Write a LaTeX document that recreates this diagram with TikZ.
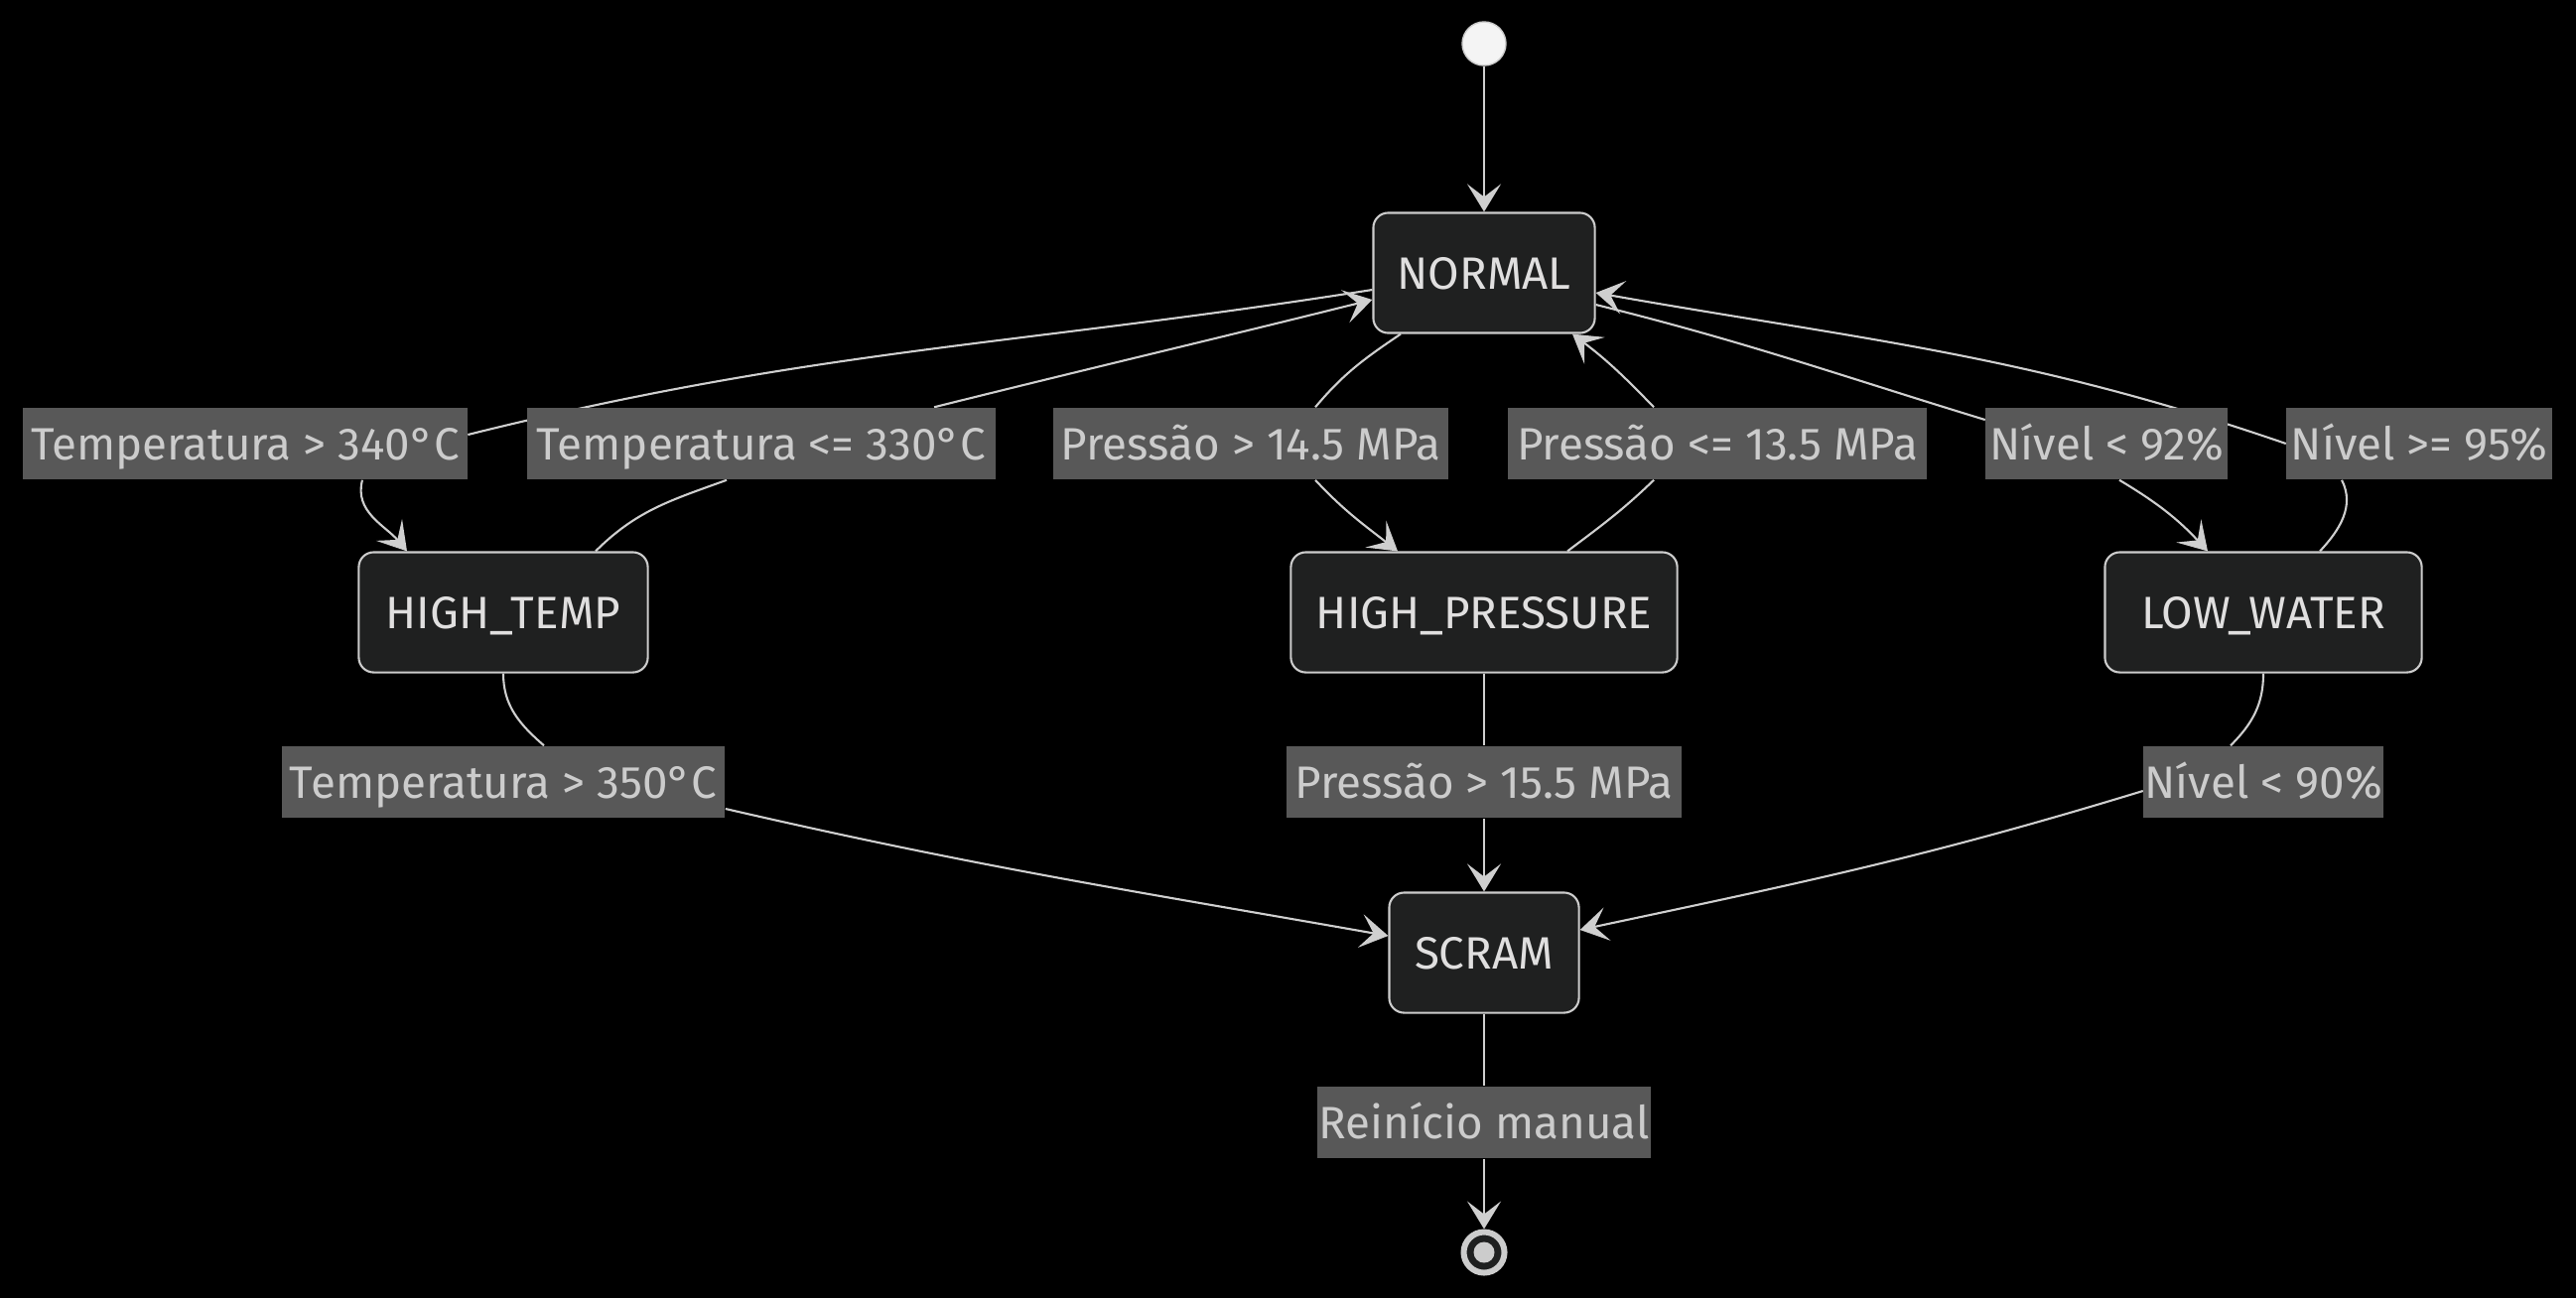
\documentclass[tikz,border=0pt]{standalone}
\usepackage{fontspec}
\setmainfont{Fira Sans}
\usetikzlibrary{backgrounds,calc,arrows.meta}
\definecolor{fundo}{HTML}{000000}
\definecolor{caixa}{HTML}{1F2020}
\definecolor{borda}{HTML}{CCCCCC}
\definecolor{textoestado}{HTML}{E0DFDF}
\definecolor{rotulofundo}{HTML}{585858}
\definecolor{rotulotexto}{HTML}{CCCCCC}
\definecolor{linha}{HTML}{CFCFCF}
\definecolor{inicio}{HTML}{F4F4F4}

\begin{document}
\begin{tikzpicture}[x=0.01cm, y=0.01cm,
    estado/.style={draw=borda, line width=0.6pt, fill=caixa, text=textoestado,
      rounded corners=0.15cm, inner sep=0pt, minimum height=1.21cm,
      text height=0.32cm, text depth=0pt,
      font=\fontsize{13}{15}\selectfont}, % caixas dos estados
    rotulo/.style={fill=rotulofundo, text=rotulotexto, inner sep=0pt,
      minimum height=0.72cm, text height=0.32cm, text depth=0pt,
      font=\fontsize{13}{15}\selectfont}, % rotulos das transicoes
    ponto/.style={circle, inner sep=0pt, draw=borda, line width=0.4pt,
      fill=inicio, minimum size=0.44cm}, % estado inicial
    fim/.style={circle, inner sep=0pt, draw=borda, line width=0.06cm,
      fill=caixa, minimum size=0.41cm,
      path picture={\fill[borda] (path picture bounding box.center) circle (0.105cm);}}, % estado final
    link/.style={draw=linha, line width=0.6pt},
    seta/.style={link, -{Stealth[length=0.28cm, width=0.34cm, inset=0.13cm]}},
  ]
  \useasboundingbox (0,0) rectangle (2595,-1308);

  % estados
  \node[ponto] (inicio) at (1495,-44) {};
  \node[estado, minimum width=2.23cm] (normal) at (1495,-275) {NORMAL};
  \node[estado, minimum width=2.91cm] (hightemp) at (507,-617) {HIGH\_TEMP};
  \node[estado, minimum width=3.89cm] (highpress) at (1495,-617) {HIGH\_PRESSURE};
  \node[estado, minimum width=3.19cm] (lowwater) at (2280,-617) {LOW\_WATER};
  \node[estado, minimum width=1.91cm] (scram) at (1495,-960) {SCRAM};
  \node[fim] (fim) at (1495,-1262) {};

  % rotulos
  \node[rotulo, minimum width=4.47cm] (t340) at (247,-447) {Temperatura > 340°C};
  \node[rotulo, minimum width=4.71cm] (t330) at (767,-447) {Temperatura <= 330°C};
  \node[rotulo, minimum width=3.97cm] (p145) at (1260,-447) {Pressão > 14.5 MPa};
  \node[rotulo, minimum width=4.21cm] (p135) at (1730,-447) {Pressão <= 13.5 MPa};
  \node[rotulo, minimum width=2.43cm] (n92) at (2122,-447) {Nível < 92\%};
  \node[rotulo, minimum width=2.67cm] (n95) at (2437,-447) {Nível >= 95\%};
  \node[rotulo, minimum width=4.46cm] (t350) at (507,-788) {Temperatura > 350°C};
  \node[rotulo, minimum width=3.97cm] (p155) at (1495,-788) {Pressão > 15.5 MPa};
  \node[rotulo, minimum width=2.41cm] (n90) at (2280,-788) {Nível < 90\%};
  \node[rotulo, minimum width=3.35cm] (reinicio) at (1495,-1131) {Reinício manual};

  \begin{scope}[on background layer]
    \fill[fundo] (0,0) rectangle (2595,-1308);
    \draw[seta] (inicio) -- (normal);
    % NORMAL <-> HIGH_TEMP
    \draw[link] ($(normal.west)+(0,-17)$) to[out=189, in=14] ($(t340.east)+(0,9)$);
    \draw[seta] ($(t340.south)+(118,0)$) to[out=255, in=130] ($(hightemp.north)+(-97,0)$);
    \draw[link] ($(hightemp.north)+(93,0)$) to[out=45, in=200] ($(t330.south)+(-35,0)$);
    \draw[seta] ($(t330.north)+(174,0)$) to[out=14, in=194] ($(normal.west)+(0,-27)$);
    % NORMAL <-> HIGH_PRESSURE
    \draw[link] ($(normal.south)+(-84,0)$) to[out=214, in=50] ($(p145.north)+(65,0)$);
    \draw[seta] ($(p145.south)+(65,0)$) to[out=-47, in=142] ($(highpress.north)+(-87,0)$);
    \draw[link] ($(highpress.north)+(84,0)$) to[out=37, in=224] ($(p135.south)+(-64,0)$);
    \draw[seta] ($(p135.north)+(-64,0)$) to[out=134, in=-37] ($(normal.south)+(89,0)$);
    % NORMAL <-> LOW_WATER
    \draw[link] ($(normal.east)+(0,-32)$) to[out=-14, in=163] ($(n92.west)+(0,24)$);
    \draw[seta] ($(n92.south)+(13,0)$) to[out=-31, in=133] ($(lowwater.north)+(-56,0)$);
    \draw[link] ($(lowwater.north)+(57,0)$) to[out=47, in=-63] ($(n95.south)+(-78,0)$);
    \draw[seta] (n95.west) to[out=161, in=-10] ($(normal.east)+(0,-20)$);
    % -> SCRAM
    \draw[link] (hightemp.south) to[out=-90, in=139] ($(t350.north)+(41,0)$);
    \draw[seta] ($(t350.east)+(0,-27)$) to[out=-13, in=170] ($(scram.west)+(0,17)$);
    \draw[link] (highpress) -- (p155);
    \draw[seta] (p155) -- (scram);
    \draw[link] (lowwater.south) to[out=-90, in=45] ($(n90.north)+(-33,0)$);
    \draw[seta] ($(n90.west)+(0,-9)$) to[out=197, in=12] ($(scram.east)+(0,23)$);
    % SCRAM -> fim
    \draw[link] (scram) -- (reinicio);
    \draw[seta] (reinicio) -- (fim);
  \end{scope}
\end{tikzpicture}
\end{document}
